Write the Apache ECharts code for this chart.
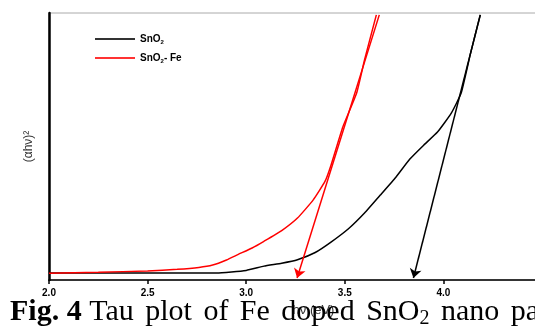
<!DOCTYPE html>
<html>
<head>
<meta charset="utf-8">
<script src="https://cdn.jsdelivr.net/npm/echarts@6/dist/echarts.min.js"></script>
<style>
  html, body { margin: 0; padding: 0; background: #fff; }
  #tauPlot { width: 535px; height: 329px; }
</style>
</head>
<body>
<div id="tauPlot"></div>
<script>
// photon energy (eV) vs (ahv)^2, arbitrary units 0-100
const sno2Energy = [2.0, 2.3, 2.6, 2.85, 3.0, 3.09, 3.18, 3.26, 3.35, 3.43, 3.52, 3.60, 3.68, 3.76, 3.83, 3.90, 3.97, 4.04, 4.09, 4.137, 4.187];
const sno2Abs    = [2.6, 2.6, 2.6, 2.6, 3.6, 5.2, 6.3, 7.6, 10.3, 14.2, 19.3, 25.1, 31.8, 38.6, 45.3, 50.5, 55.4, 62.5, 70.0, 84.7, 99.3];
const feEnergy = [2.0, 2.25, 2.5, 2.65, 2.76, 2.83, 2.90, 2.96, 3.03, 3.09, 3.18, 3.26, 3.34, 3.40, 3.43, 3.49, 3.56, 3.60, 3.66];
const feAbs    = [2.5, 2.9, 3.4, 4.0, 4.7, 5.6, 7.5, 9.6, 12.0, 14.5, 18.5, 23.2, 30.0, 37.0, 43.0, 57.3, 70.0, 82.4, 99.3];
// band-gap extrapolation lines: [top point, axis point]
const sno2Tangent = [[4.187, 99.3], [3.848, 0.75]];
const feTangent   = [[3.675, 99.3], [3.258, 0.75]];
const captionWords = ['Tau', 'plot', 'of', 'Fe', 'doped', 'SnO{s|2}', 'nano', 'particles'];

const zip = (xs, ys) => xs.map((x, i) => [x, ys[i]]);

const tangentLine = (pts, color) => ({
  silent: true,
  symbol: ['none', 'arrow'],
  symbolSize: 9,
  label: { show: false },
  lineStyle: { color: color, width: 1.5, type: 'solid' },
  emphasis: { disabled: true },
  data: [[{ coord: pts[0] }, { coord: pts[1] }]],
});

const chart = echarts.init(document.getElementById('tauPlot'));
chart.setOption({
  animation: false,
  grid: {
    left: 49,
    right: -7,
    top: 13,
    bottom: 49,
    outerBoundsMode: 'none',
    show: true,
    borderColor: '#aaa',
    borderWidth: 1,
  },
  legend: {
    orient: 'vertical',
    left: 90,
    top: 29,
    itemWidth: 40,
    itemHeight: 2,
    itemGap: 8,
    icon: 'rect',
    textStyle: {
      fontFamily: 'Arial, Liberation Sans',
      fontSize: 10,
      fontWeight: 'bold',
      color: '#000',
      rich: {
        s: { fontSize: 6, fontWeight: 'bold', color: '#000', padding: [6, 0, 0, 0] },
      },
    },
    formatter: name => (name === 'SnO2' ? 'SnO{s|2}' : 'SnO{s|2}- Fe'),
  },
  xAxis: {
    type: 'value',
    min: 2,
    max: 4.5,
    interval: 0.5,
    name: 'hν (eV)',
    nameLocation: 'middle',
    nameGap: 24,
    nameTextStyle: {
      fontFamily: 'Arial, Liberation Sans',
      fontSize: 13,
      color: '#333',
      padding: [0, 0, 0, 36],
    },
    axisLine: { lineStyle: { color: '#000', width: 1.5 } },
    axisTick: { length: 4, lineStyle: { color: '#000', width: 1.5 } },
    axisLabel: {
      margin: 8,
      showMaxLabel: true,
      hideOverlap: false,
      fontFamily: 'Arial, Liberation Sans',
      fontSize: 10,
      fontWeight: 'bold',
      color: '#000',
      formatter: v => v.toFixed(1),
    },
    splitLine: { show: false },
  },
  yAxis: {
    type: 'value',
    min: 0,
    max: 100,
    name: '(αhν)²',
    nameLocation: 'middle',
    nameGap: 14,
    nameTextStyle: {
      fontFamily: 'Arial, Liberation Sans',
      fontSize: 12,
      color: '#333',
    },
    axisLine: { show: true, lineStyle: { color: '#000', width: 2.5 } },
    axisTick: { show: false },
    axisLabel: { show: false },
    splitLine: { show: false },
  },
  series: [
    {
      name: 'SnO2',
      type: 'line',
      data: zip(sno2Energy, sno2Abs),
      smooth: 0.15,
      showSymbol: false,
      lineStyle: { color: '#000', width: 1.5 },
      itemStyle: { color: '#333' },
      markLine: tangentLine(sno2Tangent, '#000'),
    },
    {
      name: 'SnO2-Fe',
      type: 'line',
      data: zip(feEnergy, feAbs),
      smooth: 0.15,
      showSymbol: false,
      lineStyle: { color: '#ff0000', width: 1.5 },
      itemStyle: { color: '#ff3333' },
      markLine: tangentLine(feTangent, '#ff0000'),
    },
  ],
  graphic: [
    {
      type: 'text',
      left: 10,
      top: 297,
      z: 100,
      style: {
        // justified caption: words spaced a little wider than a normal space
        text: '{b|Fig. 4} ' + captionWords.join('{g| }'),
        font: '30px "Liberation Serif", "Times New Roman", serif',
        fill: '#000',
        rich: {
          b: { fontFamily: 'Liberation Serif', fontSize: 30, fontWeight: 'bold' },
          s: { fontFamily: 'Liberation Serif', fontSize: 20, padding: [14, 0, 0, 0] },
          g: { fontFamily: 'Liberation Serif', fontSize: 30, width: 11.5 },
        },
      },
    },
  ],
});
</script>
</body>
</html>
